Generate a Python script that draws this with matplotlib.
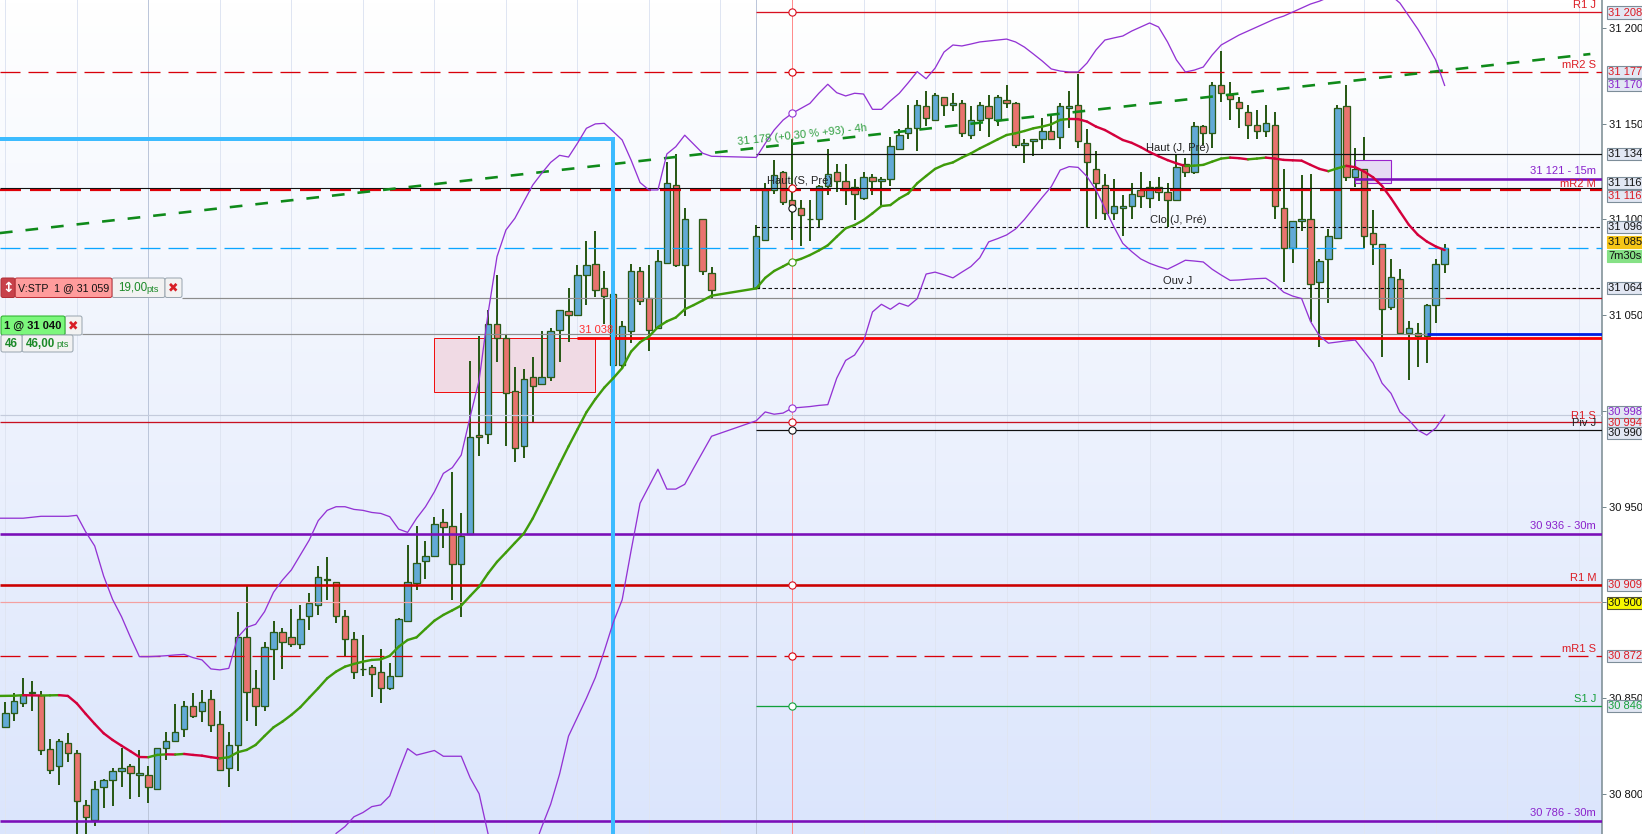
import numpy as np
import matplotlib
matplotlib.use("Agg")
import matplotlib.pyplot as plt
from matplotlib.colors import LinearSegmentedColormap
from matplotlib.patches import Rectangle, FancyBboxPatch
from matplotlib.ticker import FuncFormatter

plt.rcParams['font.family'] = ['Liberation Sans', 'DejaVu Sans']
plt.rcParams['lines.scale_dashes'] = False
n = float('nan')

opens = [30835,30842.5,30847.5,30853.5,30851.5,30823.5,30814.5,30826.5,30821.5,30794.5,
 30786.5,30803.5,30807.5,30812,30814.5,30810,30810,30802.5,30824,30827.5,
 30834,30846,30843.5,30849.5,30836.5,30813.5,30825.5,30882,30855.5,30846,
 30875.5,30884.5,30882,30878.5,30893,30898.5,30912.5,30910.5,30893,30881,
 30865,30866.5,30863.5,30855.5,30861.5,30890.5,30910,30921.5,30924.5,30942,
 30940,30920,30936,30987.5,30988,31045.5,31038,31010.5,30981.5,31017.5,
 31014,31017.5,31042.5,31052,31050,31071,31076.5,31064,31061,31024,
 31041.5,31073,31059,31043.5,31077.5,31118,31076,n,31100.5,31072,
 n,n,n,n,31064,31089.5,31115.5,31125,31110,31106,
 31100.5,31100.5,31117.5,31125,31120,31117,31111,31122,31120,31121,
 31137,31145,31148,31159,31152,31164,31160,31161,31144,31152,
 31159,31152,31162.5,31161,31139,31141,31142,31146,31143,31158,
 31160,31140,31126.5,31118,31103.5,31106,31107,31115.5,31111,31117,
 31114.5,31110,31129,31125,31149,31145,31170,31165,31161.5,31156,
 31149.5,31146,31149.5,31106,31085,31099,31100.5,31067.5,31079.5,31090.5,
 31159,31122,31126.5,31093,31087,31054.5,31069,31040.5,31040.5,31039,
 31055.5,31076.5]
highs = [30848,30852.5,30860.5,30859,30854,30828.5,30828.5,30832,30823,30797,
 30807,30808,30813.5,30824,30815.5,30823,30814.5,30824,30832.5,30847,
 30848.5,30852.5,30854.5,30854.5,30843.5,30832.5,30895,30909,30864.5,30879.5,
 30890.5,30886.5,30896.5,30898.5,30905,30919,30923.5,30910.5,30896,30884.5,
 30883,30867.5,30875.5,30868.5,30892,30930,30940,30932,30944.5,30949,
 30968,30946.5,31026,31039,31052.5,31071,31039.5,31023,31022,31028,
 31041.5,31043.5,31052.5,31064,31076,31088.5,31094,31073,31061,31047,
 31076.5,31075,31076,31084,31130,31134,31106,n,31100.5,31075,
 n,n,n,n,31097,31119,31131,31125.5,31142,31110,
 31110,31118,31137,31129,31129,31121,31125,31124,31122,31143,
 31147,31160,31162.5,31167,31166,31164,31166,31162.5,31159,31161.5,
 31165,31165,31170,31161.5,31142,31142,31153,31155,31161,31167,
 31176,31147,31136,31124,31121,31113,31119,31125,31120,31122,
 31119,31134,31132,31151,31149.5,31172,31188,31172,31164,31160,
 31157,31160,31156,31126.5,31099,31123,31124,31079.5,31095,31160,
 31170,31137.5,31143,31105,31087,31079.5,31074,31047,31046,31056,
 31079.5,31087]
lows = [30835,30838,30845.5,30843.5,30820.5,30810.5,30804.5,30816.5,30778,30774,
 30783.5,30792.5,30793.5,30803.5,30797.5,30798.5,30795.5,30802.5,30817.5,30827.5,
 30829.5,30839.5,30837.5,30832.5,30812.5,30803.5,30812,30838,30835.5,30843.5,
 30859.5,30865.5,30876.5,30875.5,30885.5,30893.5,30901.5,30889.5,30872,30860,
 30861.5,30850.5,30847.5,30854.5,30861.5,30890.5,30906.5,30912.5,30924.5,30928.5,
 30901.5,30892.5,30936,30976.5,30982.5,31025.5,30981.5,30973.5,30975.5,30994.5,
 31014,31015.5,31025.5,31036,31050,31055.5,31059.5,31045.5,31024,31022,
 31035.5,31055.5,31031.5,31043.5,31076.5,31075,31049.5,n,31071,31059,
 n,n,n,n,31064,31089.5,31113.5,31107.5,31089.5,31086,
 31088.5,31096,31113,31114.5,31107.5,31099.5,31110,31113,31106.5,31117.5,
 31137,31142,31136,31149,31152,31154,31156.5,31143,31142,31146,
 31143,31149,31158,31137.5,31129.5,31133,31137,31142,31137,31147.5,
 31137.5,31096,31100.5,31099.5,31099.5,31091.5,31100.5,31106,31106,31109.5,
 31096,31110,31122,31124,31139,31137.5,31161.5,31152,31148,31142,
 31142,31143,31100.5,31067.5,31077.5,31094,31046.5,31033.5,31056.5,31090.5,
 31120,31117,31085,31076,31028,31052.5,31040.5,31016,31023,31025,
 31046,31072]
closes = [30842.5,30848.5,30851.5,30852.5,30823,30812.5,30827.5,30821.5,30796.5,30788,
 30802.5,30807.5,30812,30813.5,30811,30811,30803.5,30824,30827.5,30832.5,
 30846,30840.5,30848,30836,30812.5,30825.5,30882,30853.5,30846,30876.5,
 30884.5,30879.5,30878.5,30891.5,30899.5,30913.5,30911.5,30893,30881,30863.5,
 30865,30862.5,30855.5,30861.5,30891.5,30910.5,30920.5,30924.5,30941,30939.5,
 30920,30934.5,30986.5,30986.5,31045.5,31038,31009.5,30980.5,31016.5,31013,
 31017.5,31041.5,31052.5,31050,31071,31076,31063,31060,31024,31044.5,
 31073,31057.5,31042.5,31078.5,31119,31076,31100,n,31073,31063,
 n,n,n,n,31091.5,31115.5,31123,31109,31107.5,31102.5,
 31100,31117.5,31124,31120,31115.5,31113.5,31122,31120,31121,31138.5,
 31144,31148,31160,31153,31165,31160,31161,31145,31152,31160,
 31153,31164,31161,31139,31140,31142,31146,31142,31159,31159,
 31141,31130,31119,31103.5,31107,31107,31113.5,31112,31117,31114.5,
 31110,31127.5,31125,31149,31145,31170,31166,31163,31158,31149.5,
 31146,31150.5,31107,31085,31099,31100,31066.5,31078.5,31091.5,31158,
 31122,31126.5,31091.5,31087,31053.5,31070,31040.5,31043.5,31039,31055.5,
 31076.5,31085]

upper_band = [30944,30944,30944,30944.5,30945,30945,30945,30945,30945.5,30936.8,
 30929.5,30913.8,30901.6,30892.6,30881.8,30871.7,30871.7,30871.9,30872.2,30872.6,
 30872.9,30871.2,30870,30865.3,30864.8,30865.6,30881.8,30887,30888.6,30895.2,
 30905.3,30911.7,30917,30924.8,30932.6,30942.7,30948.1,30950,30950,30948.6,
 30948.1,30947,30946.5,30944.8,30938.3,30936.6,30943.9,30950,30957.8,30967.4,
 30970.4,30977,30997,31016.1,31051,31080.6,31094.5,31100.6,31109.3,31118,
 31124.1,31129.8,31133.5,31132.6,31139.8,31147.6,31149.9,31150.2,31145.9,31141.5,
 31131,31119.3,31115.4,31115.4,31134.2,31138,31144,31139.3,31134.6,31133,
 n,n,n,n,31132.4,31139.7,31146.7,31151.9,31155.4,31158,
 31160.6,31165.9,31170.6,31166.2,31164.5,31165.9,31165.5,31157.5,31157.5,31161.9,
 31165.9,31171.4,31177.2,31173.5,31179,31187.4,31191.1,31190.6,31191.6,31192.7,
 31193.2,31193.7,31194.2,31192.7,31190,31186.4,31182.7,31178.6,31177.5,31177,
 31177,31181.7,31188.5,31193.7,31194.8,31195.8,31198.4,31200.5,31202.6,31200.5,
 31192.7,31183.3,31177,31178,31179.6,31185.9,31191.1,31193.7,31196.3,31198.4,
 31200.5,31202.6,31204.7,31206.2,31208.3,31210.4,31212.5,31214,31216,31217,
 31218,31219,31219.5,31219.5,31219,31217,31213,31206.2,31199.4,31191.6,
 31183.3,31170]
lower_band = [n]*37 + [30779.4,30783,30788.1,
 30790.3,30793.4,30794.3,30799,30811.7,30823.7,30820.3,30821.5,30822.7,30819.7,
 30819.7,30819.7,30808.4,30800.1,30779.2,30768,30762,30760,30762,30770,
 30782.7,30794.6,30810.4,30830.2,30840.1,30850,30860.8,30874.7,30889.5,30901.4,
 30927.1,30951.8,30960.7,30969.6,30959.2,30959.2,30961.7,30970.2,30978.5,30986.8,
 n,n,n,n,30994.9,30999.5,30998.3,30998.9,31001.5,31001.9,
 31002.3,31002.9,31003.3,31017.1,31026.4,31029.2,31036.3,31051.7,31055.7,31053.1,
 31056.3,31054.7,31058.6,31071.5,31072.5,31071.1,31069.5,31072.5,31075.4,31080,
 31088.3,31090,31091.9,31095,31100,31105.8,31111.6,31117.1,31125.8,31127.6,
 31127.2,31122.4,31115.4,31105.8,31096.2,31087.5,31083.2,31079.4,31077.1,31075.4,
 31074,31076.3,31078.7,31078.3,31077.8,31074,31071,31068.2,31068.4,31068.8,
 31069.1,31069.3,31066.3,31062,31060,31058.7,31046.7,31039.2,31035.4,31036,
 31036.6,31037,31031,31025,31014.5,31009.2,30999.5,30995.3,30990,30987.4,
 30991,30997.8]
ema = [30851.2,30851.3,30851.6,30851.5,30851.4,30851.5,30851.6,30851.2,30847.3,30841.8,
 30836.6,30831.7,30828.2,30825.2,30822.3,30819.3,30819.2,30820.4,30820.7,30820.6,
 30820.9,30820.4,30820,30819.2,30818.6,30819.2,30821.8,30823,30825.6,30830.3,
 30834.8,30837.8,30841.3,30845.3,30850.3,30855.2,30860.4,30863.9,30866.5,30867.9,
 30869.1,30870,30870.3,30872.1,30876.9,30880.4,30881.8,30886.2,30890.5,30893.5,
 30895.9,30898.4,30903.4,30908.3,30915.2,30921.2,30926.1,30931.1,30936,30943.9,
 30953.2,30962.7,30972.2,30981.5,30990.4,30999.3,31006.2,31012.2,31017.1,31022.4,
 31031,31035.9,31038.9,31043.8,31046.8,31048.8,31053.1,31055.3,31057.7,31060.2,
 n,n,n,n,31064,31069.5,31073.1,31075.5,31078,31079.4,
 31081.4,31083.8,31086.5,31091,31095.4,31097.1,31099.7,31103.2,31107,31107.5,
 31111,31113.6,31118.9,31122.7,31126.4,31128.5,31129.8,31132.3,31134.5,31137.1,
 31139.4,31141.8,31144.1,31145,31146.2,31147.6,31148.5,31149.7,31152,31152.5,
 31152.4,31151.1,31148.5,31146.7,31144.1,31141.5,31140,31137.8,31135.2,31133,
 31131,31129.3,31127.9,31128.1,31128.5,31130.2,31131.8,31132.3,31132,31131.4,
 31131.8,31132.3,31131.8,31131.1,31130.9,31130.7,31128.5,31126.4,31125.2,31126.7,
 31128,31127.3,31125,31122,31117.5,31111.1,31104.1,31097.2,31092,31088.5,
 31085.9,31084]

trend_index = [-0.6, 177.3]
trend_price = [31092.9, 31186.4]
y_ticks = [30800, 30850, 30900, 30950, 31000, 31050, 31100, 31150, 31200]

R1_J, mR2_S, HAUT_J, PCT_15M, HAUT_S, mR2_M = 31208.2, 31177, 31134, 31121, 31116.2, 31115.6
CLO_J, LAST, OUV_J, STOP, ENTRY, ZONE_TOP = 31096, 31085, 31064, 31058.8, 31040, 31038
BB_REF, R1_S, PIV_J, PCT_30M, R1_M, ROUND, mR1_S, S1_J, PCT_30M2 = 30998, 30994, 30990, 30936, 30909, 30900, 30872, 30846, 30786
ZONE_BOTTOM, ZONE2_TOP, ZONE2_BOTTOM = 31010, 31131, 31119
S_PRE_MARK = 31105.9

PX = 0.72  # one pixel, in points
W, H = 1642, 834
AX_W = 1601.5
X0, DX = 5.3, 8.94


def xlim_from(px):
    return (px - X0) / DX


fig = plt.figure(figsize=(W / 100, H / 100), dpi=100, facecolor='white')
ax = fig.add_axes([0, 0, AX_W / W, 1])
xlim = (xlim_from(0), xlim_from(AX_W))
ylim = (30779.1, 31214.6)

cmap = LinearSegmentedColormap.from_list('bg', ['#ffffff', '#dbe5fc'])
ax.imshow(np.linspace(0, 1, 256).reshape(-1, 1), extent=[xlim[0], xlim[1], ylim[0], ylim[1]],
          origin='upper', aspect='auto', cmap=cmap, zorder=0)
ax.set_xlim(*xlim)
ax.set_ylim(*ylim)

for s in ('top', 'left', 'bottom'):
    ax.spines[s].set_visible(False)
ax.spines['right'].set_color('#76888f')
ax.spines['right'].set_linewidth(1.5 * PX)
ax.set_xticks([])
ax.yaxis.tick_right()
ax.set_yticks(y_ticks)
ax.yaxis.set_major_formatter(FuncFormatter(lambda v, _: f"{int(v):,}".replace(',', ' ')))
ax.tick_params(axis='y', length=4 * PX, width=1 * PX, color='#76888f', pad=3 * PX,
               labelsize=8, labelcolor='#111111')

# vertical grid
for i in range(0, 177, 8):
    ax.axvline(i, color='#bcc6da' if i == 16 else '#dfe5f2', lw=1 * PX, zorder=1)
ax.axvline(84, color='#bcc6da', lw=1 * PX, zorder=1)
ax.axvline(88, color='#ff8c8c', lw=1 * PX, zorder=1.2)

# zones
ax.add_patch(Rectangle((48, ZONE_BOTTOM), 18, ZONE_TOP - ZONE_BOTTOM, facecolor='#f0dae4',
                       edgecolor='#f01010', lw=1 * PX, zorder=1.5))

# candles
idx = np.arange(len(opens))
o, h, l, c = map(np.array, (opens, highs, lows, closes))
ok = ~np.isnan(o)
wick = '#2a5a17'
ax.vlines(idx[ok], l[ok], h[ok], color=wick, lw=2.0 * PX, zorder=2)
bull = ok & (c >= o)
bear = ok & (c < o)
ax.bar(idx[bull], (c - o)[bull], bottom=o[bull], width=0.72, color='#62aad6', edgecolor=wick,
       linewidth=1.3 * PX, zorder=3)
ax.bar(idx[bear], (c - o)[bear], bottom=o[bear], width=0.72, color='#e9736e', edgecolor=wick,
       linewidth=1.3 * PX, zorder=3)

END = xlim[1]
LEFT = xlim[0]
START = 84


def level(price, x0=LEFT, x1=END, color='k', lw=1.0, dashes=None, z=4):
    line, = ax.plot([x0, x1], [price, price], color=color, lw=lw * PX, zorder=z,
                    solid_capstyle='butt', dash_capstyle='butt')
    if dashes:
        line.set_dashes([d * PX for d in dashes])
    return line


level(BB_REF, color='#c4cbdc', lw=1.2)
level(R1_J, START, color='#d81020', lw=1.3)
level(mR2_S, color='#d8000a', lw=1.3, dashes=(20, 8))
level(HAUT_J, START, color='#111111', lw=1.2)
level(PCT_15M, xlim_from(1354), color='#7a0fb8', lw=2.6)
level(mR2_M, color='#e00008', lw=2.2, dashes=(21, 9))
level(HAUT_S, color='#111111', lw=1.1)
level(CLO_J, START, color='#111111', lw=1.1, dashes=(3.5, 2.5))
level(LAST, color='#0aa5ff', lw=1.3, dashes=(20, 8))
level(OUV_J, START, color='#111111', lw=1.1, dashes=(3.5, 2.5))
level(STOP, xlim_from(182), 161, color='#8c8c8c', lw=1.2)
level(STOP, 161, color='#c00010', lw=1.3)
level(ENTRY, xlim_from(82), 159, color='#8c8c8c', lw=1.2)
level(ENTRY + 0.4, 159, color='#0020e0', lw=2.8)
level(ZONE_TOP, 64, color='#fa0000', lw=2.8)
level(R1_S, color='#c81020', lw=1.3)
level(PIV_J, START, color='#111111', lw=1.2)
level(PCT_30M, color='#7a0fb8', lw=2.6)
level(R1_M, color='#cc0000', lw=2.6)
level(ROUND, color='#f4a0a0', lw=1.2)
level(mR1_S, color='#d8000a', lw=1.3, dashes=(20, 8))
level(S1_J, START, color='#11a03c', lw=1.3)
level(PCT_30M2, color='#7a0fb8', lw=2.6)

ax.add_patch(Rectangle((151, ZONE2_BOTTOM), 4, ZONE2_TOP - ZONE2_BOTTOM, facecolor='#e6daf4',
                       edgecolor='#9a22cc', lw=1.1 * PX, zorder=2.5))

# trend line
tl, = ax.plot(trend_index, trend_price, color='#0f8a1a', lw=2.6 * PX, zorder=4.2, dash_capstyle='butt')
tl.set_dashes([12.7 * PX, 13 * PX])

# blue frame
ax.plot([LEFT, 68, 68], [31142, 31142, ylim[0]], color='#3dbbff', lw=4 * PX, zorder=4.4,
        solid_joinstyle='miter')


def series_x(values):
    v = np.array(values)
    m = ~np.isnan(v)
    xs = idx[m].astype(float)
    if m[0]:
        xs[0] = LEFT
    return xs, v[m]


# bollinger
for band in (upper_band, lower_band):
    xs, ys = series_x(band)
    ax.plot(xs, ys, color='#9333d4', lw=1.3 * PX, zorder=4.6)

# moving average, coloured by direction
xs, ys = series_x(ema)
for k in range(len(xs) - 1):
    ax.plot(xs[k:k + 2], ys[k:k + 2], color='#3f9b0a' if ys[k + 1] >= ys[k] else '#d4003c',
            lw=2.4 * PX, zorder=5, solid_capstyle='round')

# markers on the pink vertical
for p, col in [(R1_J, '#d81020'), (mR2_S, '#d8000a'), (upper_band[88], '#9333d4'), (HAUT_S, '#d8000a'),
               (S_PRE_MARK, '#111111'), (ema[88], '#3f9b0a'), (lower_band[88], '#9333d4'),
               (R1_S, '#d81020'), (PIV_J, '#111111'), (R1_M, '#d81020'), (mR1_S, '#d8000a'), (S1_J, '#11a03c')]:
    ax.plot([88], [p], 'o', mfc='white', mec=col, ms=5.2, mew=0.8, zorder=6)

# overlay in image pixels: price tags, captions, order tickets
ui = fig.add_axes([0, 0, 1, 1], facecolor='none')
ui.set_xlim(0, W)
ui.set_ylim(H, 0)
ui.axis('off')

FS = 8
RED, PUR, GRN = '#dc1c24', '#8a22cc', '#17a03c'


def caption(text, y, color):
    ui.text(1596, y, text, ha='right', va='center', fontsize=FS, color=color)


caption('R1 J', 5, RED)
caption('mR2 S', 65, RED)
caption('31 121 - 15m', 171, PUR)
caption('mR2 M', 184, RED)
caption('R1 S', 416, RED)
caption('Piv J', 423, '#222222')
caption('30 936 - 30m', 526, PUR)
caption('R1 M', 578, RED)
caption('mR1 S', 649, RED)
caption('S1 J', 699, GRN)
caption('30 786 - 30m', 813, PUR)

for text, x, y in [('Haut (S, Pré)', 800, 181), ('Haut (J, Pré)', 1178, 147.5),
                   ('Clo (J, Pré)', 1178, 220), ('Ouv J', 1178, 281)]:
    ui.text(x, y, text, ha='center', va='center', fontsize=FS, color='#222222')
ui.text(596, 330, '31 038', ha='center', va='center', fontsize=FS, color='#ff3030')
ui.text(802, 135, '31 178 (+0,30 % +93) - 4h', ha='center', va='center', fontsize=FS,
        color='#2e9e3e', rotation=6.2, rotation_mode='anchor')


def tag(text, y, color, fc='#e2e7f3', ec='#7d8d99'):
    ui.add_patch(Rectangle((1606.5, y - 6.2), 40, 12.4, facecolor=fc, edgecolor=ec, lw=1.1 * PX, zorder=5))
    ui.text(1608.5, y + 0.2, text, ha='left', va='center', fontsize=FS, color=color, zorder=6)


for text, y, col, fc, ec in [
    ('31 208', 12.5, RED, '#e2e7f3', '#7d8d99'),
    ('31 177', 72, RED, '#e2e7f3', '#7d8d99'),
    ('31 170', 85, PUR, '#e2e7f3', '#7d8d99'),
    ('31 134', 154, '#111111', '#e2e7f3', '#7d8d99'),
    ('31 116', 183, '#111111', '#e2e7f3', '#7d8d99'),
    ('31 116', 196, RED, '#e2e7f3', '#7d8d99'),
    ('31 096', 227, '#111111', '#e2e7f3', '#7d8d99'),
    ('31 064', 288, '#111111', '#e2e7f3', '#7d8d99'),
    ('30 994', 423, RED, '#e2e7f3', '#7d8d99'),
    ('30 998', 412, PUR, '#e2e7f3', '#7d8d99'),
    ('30 990', 433, '#111111', '#e2e7f3', '#7d8d99'),
    ('30 909', 585, RED, '#e2e7f3', '#7d8d99'),
    ('30 900', 603, '#111111', '#f8f800', '#555533'),
    ('30 872', 656, RED, '#e2e7f3', '#7d8d99'),
    ('30 846', 706, GRN, '#e2e7f3', '#7d8d99'),
    ('31 085', 242, '#111111', '#f5c518', '#f5c518'),
    ('7m30s', 256, '#111111', '#86e186', '#86e186'),
]:
    tag(text, y, col, fc, ec)


def box(x0, x1, y0, y1, fc, ec='#9aa6b0'):
    ui.add_patch(FancyBboxPatch((x0 + 1, y0 + 1), x1 - x0 - 2, y1 - y0 - 2,
                                boxstyle='round,pad=1,rounding_size=2',
                                facecolor=fc, edgecolor=ec, lw=1 * PX, zorder=7))


def t(x, y, s, color='#111111', fs=8, weight='normal', ha='center', family=None):
    kw = {'family': family} if family else {}
    ui.text(x, y, s, ha=ha, va='center', fontsize=fs, color=color, fontweight=weight, zorder=8, **kw)


box(112, 165, 278, 297.5, '#f2f2f2')
box(165, 182, 278, 297.5, '#f2f2f2')
box(15, 112, 278, 297.5, '#ff9c9c', '#c03038')
box(1, 15, 278, 297.5, '#c8414a', '#b03038')
t(8, 287.5, '↕', color='white', fs=10, weight='bold', family='DejaVu Sans')
t(64, 288, 'V:STP  1 @ 31 059', fs=7.7)
t(118, 288, '19,00', color='#1c8a28', fs=8.4, ha='left')
t(146, 289, 'pts', color='#1c8a28', fs=6.6, ha='left')
t(173.5, 287.5, '✖', color='#d81f26', fs=9, family='DejaVu Sans')

box(65, 82, 316, 335, '#f2f2f2')
box(1, 65, 316, 335, '#7cf77c', '#28b028')
t(33, 326, '1 @ 31 040', fs=8, weight='bold')
t(73.5, 325.5, '✖', color='#d81f26', fs=9, family='DejaVu Sans')
box(22, 73, 335, 352, '#f2f2f2')
box(1, 22, 335, 352, '#f2f2f2')
t(11.5, 343.5, '46', color='#1c8a28', fs=8.4, weight='bold')
t(26, 343.5, '46,00', color='#1c8a28', fs=8.4, weight='bold', ha='left')
t(56, 344.5, 'pts', color='#1c8a28', fs=6.6, ha='left')

fig.savefig('out.png', dpi=100)
